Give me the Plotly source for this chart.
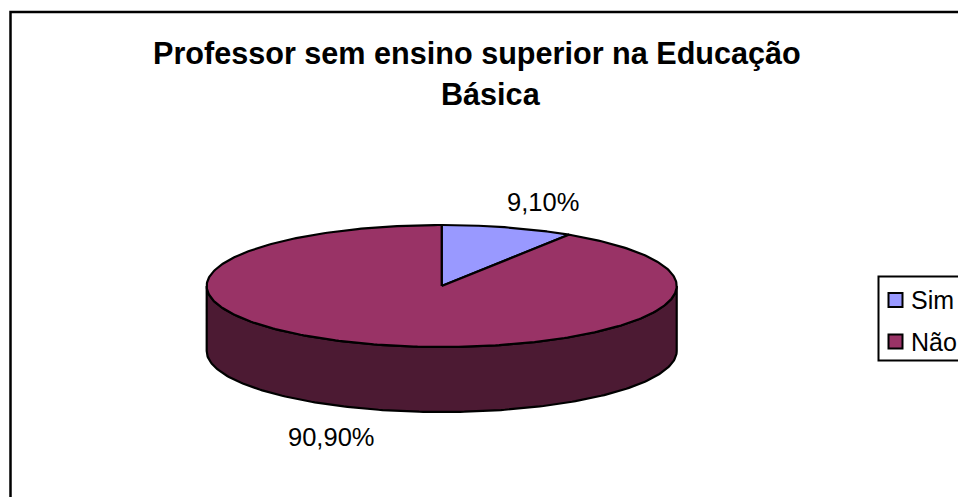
import numpy as np
import plotly.graph_objects as go

categories = ["Sim", "Não"]
values = [9.1, 90.9]
slice_colors = ["#9999FF", "#993366"]
side_colors = ["#4C1A33", "#4C1A33"]
title_lines = ["Professor sem ensino superior na Educação", "Básica"]

W, H = 958, 497
CX, CY, RX, RY, DEPTH = 441.7, 286, 235, 61, 65
FONT = "Liberation Sans, Arial, sans-serif"


def pt(deg, dy=0.0):
    a = np.radians(deg)
    return CX + RX * np.sin(a), CY - RY * np.cos(a) + dy


fig = go.Figure()
total = sum(values)
start = 0.0
spans = []
for v in values:
    spans.append((start, start + v / total * 360))
    start = spans[-1][1]

# side walls first (only the front half of the pie is visible)
for (a0, a1), name, col in zip(spans, categories, side_colors):
    lo, hi = max(a0, 90), min(a1, 270)
    if hi <= lo:
        continue
    t = np.linspace(lo, hi, 180)
    xt, yt = pt(t)
    xb, yb = pt(t[::-1], DEPTH)
    fig.add_trace(go.Scatter(
        x=np.r_[xt, xb, xt[0]], y=np.r_[yt, yb, yt[0]], mode="lines", fill="toself",
        fillcolor=col, line=dict(color="black", width=2.2), hoverinfo="skip", showlegend=False))

# top faces
for (a0, a1), name, col, v in zip(spans, categories, slice_colors, values):
    t = np.linspace(a0, a1, 360)
    xs, ys = pt(t)
    fig.add_trace(go.Scatter(
        x=np.r_[CX, xs, CX], y=np.r_[CY, ys, CY], mode="lines", fill="toself",
        fillcolor=col, line=dict(color="black", width=2.2), name=name,
        text=f"{name}: {v:.2f}%".replace(".", ","), hoverinfo="text", showlegend=False))

def ann(x, y, text, size, bold=False):
    fig.add_annotation(x=x, y=y, xref="x", yref="y", text=f"<b>{text}</b>" if bold else text,
                       showarrow=False, align="center",
                       font=dict(family=FONT, size=size, color="black"))

for (x, y), line in zip([(476.5, 53), (491, 94)], title_lines):
    ann(x, y, line, 30.6, bold=True)
label_pos = [(542.5, 202), (331, 437)]
for (x, y), v in zip(label_pos, values):
    ann(x, y, f"{v:.2f}%".replace(".", ","), 25.5)

# frame
shapes = [dict(type="path", path=f"M10.5,{H} L10.5,12 L{W},12", line=dict(color="black", width=2.5))]
# legend box + swatches
shapes.append(dict(type="path", path=f"M{W},276.5 L878.5,276.5 L878.5,360.5 L{W},360.5",
                   line=dict(color="black", width=2)))
for cy, col in zip([300, 341.5], slice_colors):
    shapes.append(dict(type="rect", x0=888.5, x1=902.5, y0=cy - 7, y1=cy + 7,
                       fillcolor=col, line=dict(color="black", width=2)))
for cy, name in zip([300, 342], categories):
    fig.add_annotation(x=909, y=cy, xref="x", yref="y", xanchor="left", text=name, showarrow=False,
                       font=dict(family=FONT, size=25, color="black"))

fig.update_layout(
    width=W, height=H, margin=dict(l=0, r=0, t=0, b=0),
    paper_bgcolor="white", plot_bgcolor="white", shapes=shapes, showlegend=False,
    xaxis=dict(range=[0, W], visible=False, fixedrange=True),
    yaxis=dict(range=[H, 0], visible=False, fixedrange=True),
)
fig.write_html("out.html", config=dict(displayModeBar=False),
               post_script="document.body.style.margin='0';document.documentElement.style.overflow='hidden';")
